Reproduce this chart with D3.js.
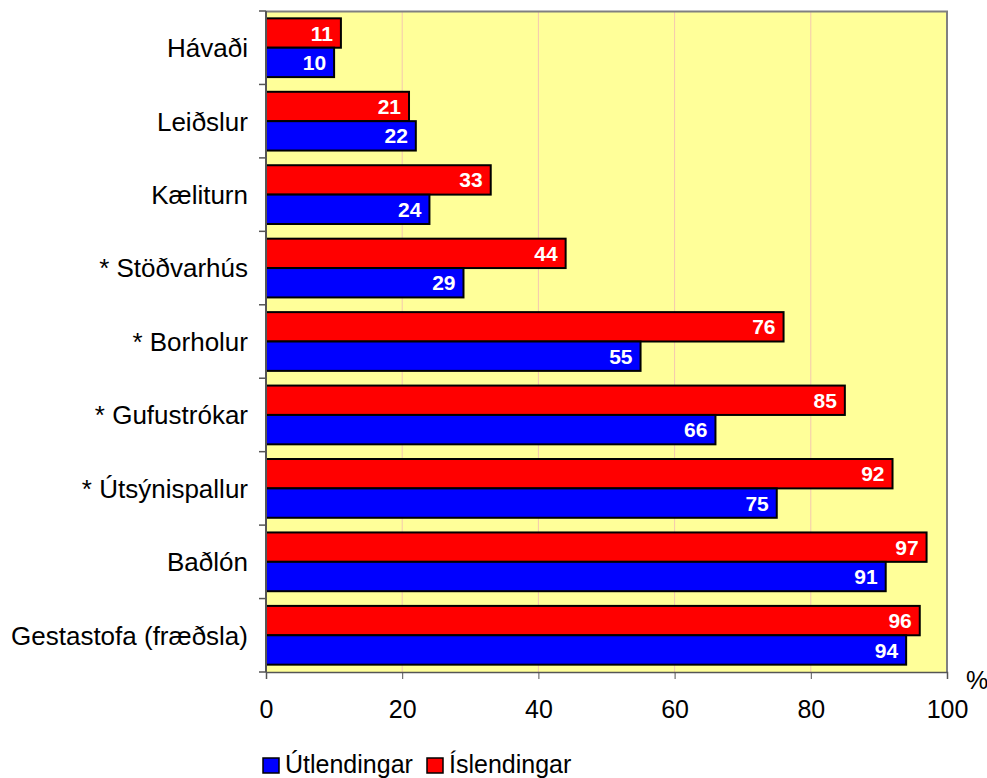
<!DOCTYPE html>
<meta charset="utf-8">
<style>
body { margin: 0; background: #fff; }
text { font-family: Arial, "Liberation Sans", sans-serif; }
</style>
<body>
<script src="https://d3js.org/d3.v7.min.js"></script>
<script>

// data, top to bottom
var categories = ["Hávaði", "Leiðslur", "Kæliturn", "* Stöðvarhús", "* Borholur",
                  "* Gufustrókar", "* Útsýnispallur", "Baðlón", "Gestastofa (fræðsla)"];
var islendingar = [11, 21, 33, 44, 76, 85, 92, 97, 96];
var utlendingar = [10, 22, 24, 29, 55, 66, 75, 91, 94];
var xTicks = [0, 20, 40, 60, 80, 100];
var seriesNames = ["Útlendingar", "Íslendingar"];
var seriesColors = ["#0000ff", "#ff0000"];

var margin = {top: 11, right: 40, bottom: 106, left: 266},
    width = 987 - margin.left - margin.right,
    height = 778 - margin.top - margin.bottom;

var svg = d3.select("body").append("svg")
    .attr("width", 987)
    .attr("height", 778)
  .append("g")
    .attr("transform", "translate(" + margin.left + "," + margin.top + ")");

var x = d3.scaleLinear().domain([0, 100]).range([0, width]);
var y = d3.scaleBand().domain(categories).range([0, height]).paddingInner(0.2).paddingOuter(0.1);

// plot background
svg.append("rect")
    .attr("width", width).attr("height", height)
    .style("fill", "#ffff99");

// vertical grid lines
svg.selectAll(".grid")
    .data(xTicks.slice(1, -1))
  .enter().append("line")
    .attr("x1", function(d) { return x(d); })
    .attr("x2", function(d) { return x(d); })
    .attr("y1", 0).attr("y2", height)
    .style("stroke", "#f4c8b0").style("stroke-width", 1);

// border top and right
svg.append("path")
    .attr("d", "M0,0.5H" + width + "V" + height)
    .style("fill", "none").style("stroke", "#808080").style("stroke-width", 2);

var barH = y.bandwidth() / 2;

var groups = svg.selectAll(".cat")
    .data(categories)
  .enter().append("g")
    .attr("transform", function(d) { return "translate(0," + y(d) + ")"; });

function drawSeries(values, color, offset) {
  groups.append("rect")
      .attr("x", 0)
      .attr("y", offset)
      .attr("width", function(d, i) { return x(values[i]); })
      .attr("height", barH)
      .style("fill", color)
      .style("stroke", "#000")
      .style("stroke-width", 2);
  groups.append("text")
      .attr("x", function(d, i) { return x(values[i]) - 8; })
      .attr("y", offset + barH / 2)
      .attr("dy", "0.36em")
      .attr("text-anchor", "end")
      .style("fill", "#fff")
      .style("font-weight", "bold")
      .style("font-size", "21px")
      .text(function(d, i) { return values[i]; });
}
drawSeries(islendingar, seriesColors[1], 0);
drawSeries(utlendingar, seriesColors[0], barH);

// x axis
var xAxis = svg.append("g")
    .attr("transform", "translate(0," + height + ")")
    .call(d3.axisBottom(x).tickValues(xTicks).tickSize(7).tickPadding(21));
xAxis.select(".domain").style("stroke", "#555").style("stroke-width", 1.5);
xAxis.selectAll(".tick line").style("stroke", "#555");
xAxis.selectAll("text").style("font-size", "25px").style("fill", "#000")
    .style("font-family", "Arial, 'Liberation Sans', sans-serif");

// y axis: ticks at category boundaries
var bounds = categories.map(function(d, i) { return i * height / categories.length; }).concat([height]);
svg.append("line")
    .attr("x1", 0).attr("x2", 0).attr("y1", 0).attr("y2", height)
    .style("stroke", "#555").style("stroke-width", 2);
svg.selectAll(".ytick")
    .data(bounds)
  .enter().append("line")
    .attr("x1", -7).attr("x2", 0)
    .attr("y1", function(d) { return d; })
    .attr("y2", function(d) { return d; })
    .style("stroke", "#555").style("stroke-width", 1.5);

svg.selectAll(".ylab")
    .data(categories)
  .enter().append("text")
    .attr("x", -18)
    .attr("y", function(d) { return y(d) + y.bandwidth() / 2; })
    .attr("dy", "0.36em")
    .attr("text-anchor", "end")
    .style("font-size", "26px")
    .text(function(d) { return d; });

// % label
svg.append("text")
    .attr("x", width + 30)
    .attr("y", height + 17)
    .attr("text-anchor", "middle")
    .style("font-size", "25px")
    .text("%");

// legend
var legend = svg.append("g")
    .attr("transform", "translate(-3," + (height + 99) + ")");
var legX = [0, 164];
seriesNames.forEach(function(name, i) {
  legend.append("rect")
      .attr("x", legX[i]).attr("y", -13)
      .attr("width", 16).attr("height", 15)
      .style("fill", seriesColors[i])
      .style("stroke", "#000").style("stroke-width", 1.5);
  legend.append("text")
      .attr("x", legX[i] + 22)
      .attr("y", 2)
      .style("font-size", "25px")
      .text(name);
});

</script>
</body>
